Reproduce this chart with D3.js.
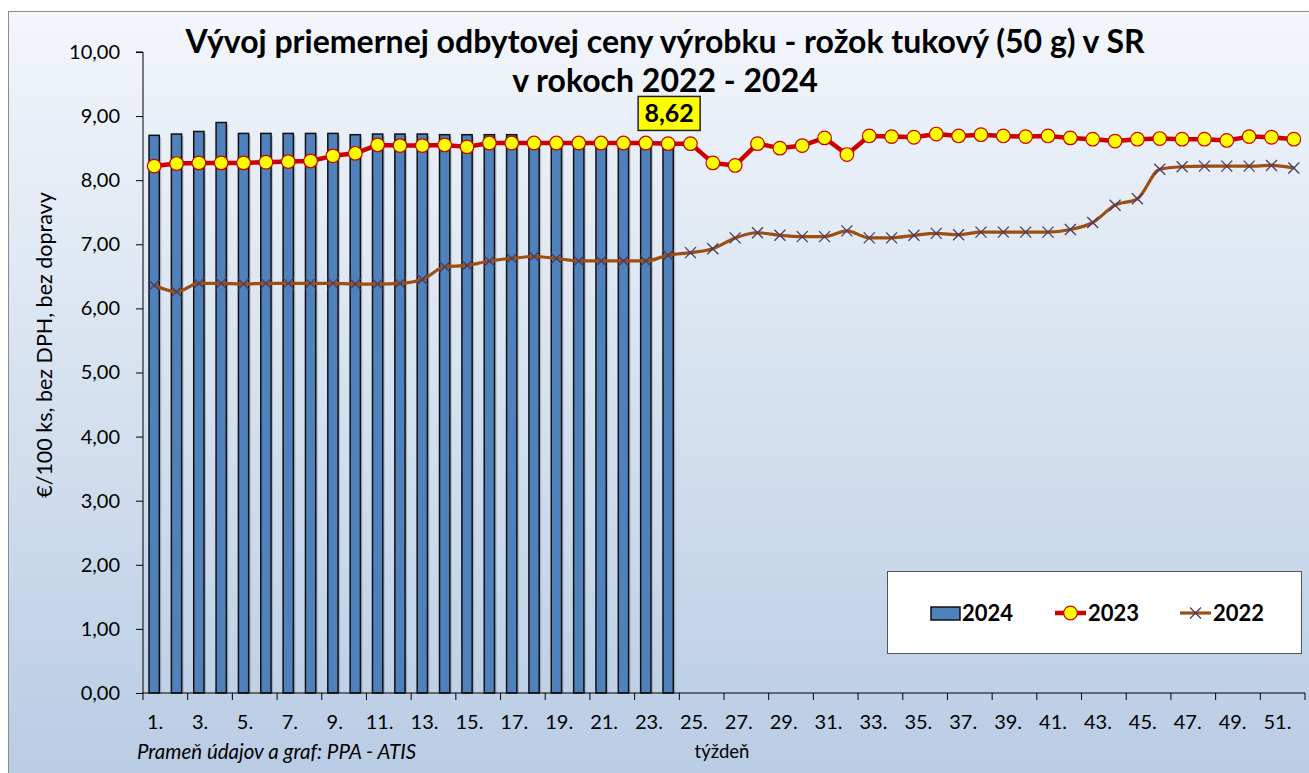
<!DOCTYPE html>
<html>
<head>
<meta charset="utf-8">
<script src="https://cdn.jsdelivr.net/npm/d3@7"></script>
<style>
  body { margin: 0; background: #fff; }
  svg { display: block; font-family: Lato, "Open Sans", sans-serif; }
</style>
</head>
<body>
<div id="chart"></div>
<script>
// weeks 1..52
const weeks = d3.range(1, 53);

// 2024 - bars (weeks 1-24 only)
const values2024 = [8.70, 8.72, 8.76, 8.90, 8.73, 8.73, 8.73, 8.73, 8.73, 8.71, 8.72, 8.72,
    8.72, 8.71, 8.71, 8.71, 8.71, 8.62, 8.62, 8.62, 8.62, 8.62, 8.62, 8.62];

// 2023 - red line with yellow circles
const values2023 = [8.22, 8.26, 8.27, 8.27, 8.27, 8.28, 8.29, 8.30, 8.38, 8.42, 8.55, 8.54, 8.54,
    8.55, 8.52, 8.58, 8.58, 8.58, 8.58, 8.58, 8.58, 8.58, 8.58, 8.57, 8.57, 8.27, 8.23,
    8.57, 8.50, 8.54, 8.66, 8.40, 8.69, 8.68, 8.67, 8.72, 8.69, 8.71, 8.69, 8.68, 8.69,
    8.66, 8.64, 8.61, 8.64, 8.65, 8.64, 8.64, 8.62, 8.68, 8.67, 8.64];

// 2022 - brown line with x markers
const values2022 = [6.36, 6.26, 6.39, 6.39, 6.38, 6.39, 6.39, 6.39, 6.39, 6.38, 6.38, 6.39, 6.45,
    6.65, 6.67, 6.74, 6.78, 6.81, 6.78, 6.74, 6.74, 6.74, 6.74, 6.83, 6.87, 6.93, 7.10,
    7.18, 7.14, 7.12, 7.12, 7.21, 7.10, 7.10, 7.14, 7.17, 7.15, 7.19, 7.19, 7.19, 7.19,
    7.23, 7.34, 7.61, 7.71, 8.17, 8.21, 8.22, 8.22, 8.22, 8.23, 8.19];

const yTicks = d3.range(0, 11, 1);
const xLabelWeeks = weeks.filter(w => w % 2 === 1);

const titleLines = ["Vývoj priemernej odbytovej ceny výrobku - rožok tukový (50 g) v SR",
    "v rokoch 2022 - 2024"];
const yTitle = "€/100 ks, bez DPH, bez dopravy";
const xTitle = "týždeň";
const sourceText = "Prameň údajov a graf: PPA - ATIS";
const lastLabel = "8,62";

const W = 1309, H = 773;
const plot = { left: 143, right: 1305, top: 52, bottom: 693 };
const fmt = v => d3.format(".2f")(v).replace(".", ",");

const svg = d3.select("#chart").append("svg")
    .attr("width", W)
    .attr("height", H);

// background gradient
const defs = svg.append("defs");
const grad = defs.append("linearGradient")
    .attr("id", "bg")
    .attr("x1", 0).attr("y1", 0).attr("x2", 0).attr("y2", 1);
grad.append("stop").attr("offset", "0%").attr("stop-color", "#f3f6fb");
grad.append("stop").attr("offset", "100%").attr("stop-color", "#b8cce4");

svg.append("rect")
    .attr("x", 8.5).attr("y", 11.5)
    .attr("width", W).attr("height", H)
    .attr("fill", "url(#bg)")
    .attr("stroke", "#8c8c8c")
    .attr("stroke-width", 1);

// scales
const x = d3.scaleBand()
    .domain(weeks)
    .range([plot.left, plot.right])
    .paddingInner(0.54)
    .paddingOuter(0.27);
const xc = w => x(w) + x.bandwidth() / 2;
const xEdge = w => plot.left + (w - 1) * ((plot.right - plot.left) / weeks.length);

const y = d3.scaleLinear()
    .domain([0, 10])
    .range([plot.bottom, plot.top]);

// bars 2024 with a light shadow
const bars = svg.append("g");
bars.selectAll("rect.shadow")
    .data(values2024)
    .enter().append("rect")
    .attr("class", "shadow")
    .attr("x", (d, i) => x(weeks[i]) + 2)
    .attr("y", d => y(d) + 2)
    .attr("width", x.bandwidth())
    .attr("height", d => y(0) - y(d) - 2)
    .attr("fill", "#000")
    .attr("opacity", 0.18);
bars.selectAll("rect.bar")
    .data(values2024)
    .enter().append("rect")
    .attr("class", "bar")
    .attr("x", (d, i) => x(weeks[i]))
    .attr("y", d => y(d))
    .attr("width", x.bandwidth())
    .attr("height", d => y(0) - y(d))
    .attr("fill", "#4f81bd")
    .attr("stroke", "#111")
    .attr("stroke-width", 1.5);

// y axis
const yAxis = svg.append("g")
    .attr("transform", `translate(${plot.left},0)`)
    .call(d3.axisLeft(y).tickValues(yTicks).tickFormat(fmt).tickSize(7).tickPadding(16));
yAxis.select(".domain").attr("stroke", "#000").attr("d", `M-7,${plot.top}H0V${plot.bottom}`);
yAxis.selectAll("line").attr("stroke", "#000");
yAxis.selectAll("text")
    .attr("font-size", 20)
    .attr("fill", "#000")
    .attr("font-family", "Lato, sans-serif");

// x axis
const xAxis = svg.append("g");
xAxis.append("line")
    .attr("x1", plot.left).attr("x2", plot.right)
    .attr("y1", plot.bottom).attr("y2", plot.bottom)
    .attr("stroke", "#000");
const tickWeeks = xLabelWeeks.concat([53]);
xAxis.selectAll("line.tick")
    .data(tickWeeks)
    .enter().append("line")
    .attr("class", "tick")
    .attr("x1", d => xEdge(d)).attr("x2", d => xEdge(d))
    .attr("y1", plot.bottom).attr("y2", plot.bottom + 7)
    .attr("stroke", "#000");
xAxis.selectAll("text")
    .data(xLabelWeeks)
    .enter().append("text")
    .attr("x", d => xc(d) + 1 + (d - 1) * 0.1)
    .attr("y", 729)
    .attr("text-anchor", "middle")
    .attr("font-size", 20)
    .text(d => d + ".");

// 2022 line
const line = d3.line()
    .x((d, i) => xc(weeks[i]))
    .y(d => y(d));

svg.append("path")
    .datum(values2022)
    .attr("fill", "none")
    .attr("stroke", "#9c4f11")
    .attr("stroke-width", 3.2)
    .attr("stroke-linejoin", "round")
    .attr("d", line.curve(d3.curveMonotoneX));

const cross = (g, cx, cy, s) => {
    g.append("path")
        .attr("d", `M${cx - s},${cy - s}L${cx + s},${cy + s}M${cx - s},${cy + s}L${cx + s},${cy - s}`)
        .attr("stroke", "#4b3b66")
        .attr("stroke-width", 1.3)
        .attr("fill", "none");
};
const crosses = svg.append("g");
values2022.forEach((d, i) => cross(crosses, xc(weeks[i]), y(d), 5.5));

// 2023 line
svg.append("path")
    .datum(values2023)
    .attr("fill", "none")
    .attr("stroke", "#cc0000")
    .attr("stroke-width", 4.5)
    .attr("stroke-linejoin", "round")
    .attr("d", d3.line().x((d, i) => xc(weeks[i])).y(d => y(d)));

svg.append("g")
    .selectAll("circle")
    .data(values2023)
    .enter().append("circle")
    .attr("cx", (d, i) => xc(weeks[i]))
    .attr("cy", d => y(d))
    .attr("r", 6.8)
    .attr("fill", "#ffff00")
    .attr("stroke", "#cc0000")
    .attr("stroke-width", 1.2);

// label of last 2024 bar
const lastWeek = weeks[values2024.length - 1];
const lbl = svg.append("g")
    .attr("transform", `translate(${xc(lastWeek)},${y(values2024[values2024.length - 1]) - 27})`);
lbl.append("rect")
    .attr("x", -30).attr("y", -17)
    .attr("width", 62).attr("height", 34)
    .attr("fill", "#ffff00")
    .attr("stroke", "#222")
    .attr("stroke-width", 1.5);
lbl.append("text")
    .attr("x", 1).attr("y", 8.5)
    .attr("text-anchor", "middle")
    .attr("font-size", 25)
    .attr("font-weight", "bold")
    .text(lastLabel);

// title
svg.append("g").selectAll("text")
    .data(titleLines)
    .enter().append("text")
    .attr("x", 665)
    .attr("y", (d, i) => 53 + i * 39)
    .attr("text-anchor", "middle")
    .attr("font-size", 32)
    .attr("font-weight", "bold")
    .text(d => d);

// axis titles
svg.append("text")
    .attr("transform", `translate(52,345) rotate(-90)`)
    .attr("text-anchor", "middle")
    .attr("font-size", 21.5)
    .text(yTitle);

svg.append("text")
    .attr("x", 722).attr("y", 758)
    .attr("text-anchor", "middle")
    .attr("font-size", 18.5)
    .text(xTitle);

svg.append("text")
    .attr("x", 137).attr("y", 759)
    .attr("font-size", 20.5)
    .attr("font-style", "italic")
    .text(sourceText);

// legend
const legend = svg.append("g");
legend.append("rect")
    .attr("x", 887.5).attr("y", 571.5)
    .attr("width", 414).attr("height", 82)
    .attr("fill", "#fff")
    .attr("stroke", "#555");
const ly = 613;
legend.append("rect")
    .attr("x", 931).attr("y", ly - 6)
    .attr("width", 29).attr("height", 13)
    .attr("fill", "#4f81bd").attr("stroke", "#111").attr("stroke-width", 1.5);
legend.append("line")
    .attr("x1", 1055).attr("x2", 1086).attr("y1", ly).attr("y2", ly)
    .attr("stroke", "#cc0000").attr("stroke-width", 4.5);
legend.append("circle")
    .attr("cx", 1070.5).attr("cy", ly).attr("r", 6.8)
    .attr("fill", "#ffff00").attr("stroke", "#cc0000").attr("stroke-width", 1.2);
legend.append("line")
    .attr("x1", 1180).attr("x2", 1211).attr("y1", ly).attr("y2", ly)
    .attr("stroke", "#9c4f11").attr("stroke-width", 3.2);
cross(legend, 1195.5, ly, 5.5);
legend.selectAll("text")
    .data(["2024", "2023", "2022"])
    .enter().append("text")
    .attr("x", (d, i) => [962, 1088, 1213][i])
    .attr("y", ly + 8)
    .attr("font-size", 22)
    .attr("font-weight", "bold")
    .text(d => d);
</script>
</body>
</html>
